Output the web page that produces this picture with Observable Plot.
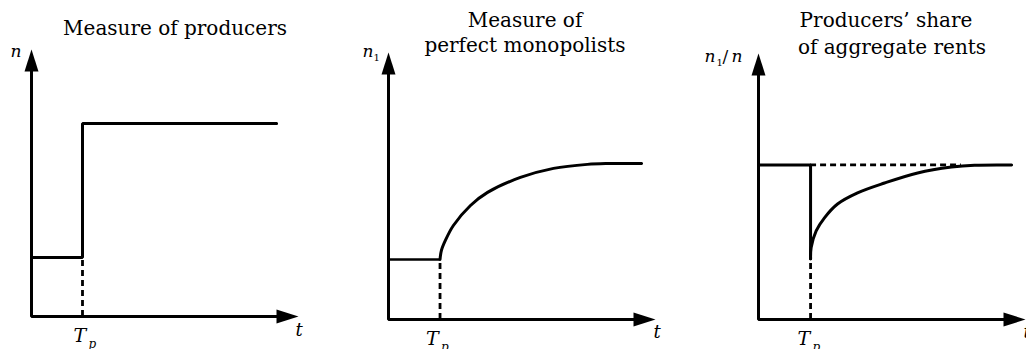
<!DOCTYPE html>
<html>
<head>
<meta charset="utf-8">
<script src="https://cdn.jsdelivr.net/npm/d3@7"></script>
<script src="https://cdn.jsdelivr.net/npm/@observablehq/plot@0.6"></script>
<style>
  body { margin: 0; background: #fff; }
  #row { position: relative; width: 1026px; height: 349px; overflow: hidden; }
  #row svg { position: absolute; top: 0; overflow: visible; }
</style>
</head>
<body>
<div id="row"></div>
<script>
// Axis extent shared by all three diagrams (arbitrary units, arrow tip at the end)
const axisMax = 10;
const axisLineEnd = 9.4;

// Panel 1: measure of producers n (a one-off jump at T_p)
const p1Tp = 1.91;
const p1Before = 2.21;
const p1After = 7.23;
const p1End = 9.18;

// Panel 2: measure of perfect monopolists n1 (gradual rise after T_p)
const p2Tp = 1.93;
const p2Before = 2.25;
const p2T  = [1.93, 1.98, 2.13, 2.43, 3.07, 3.71, 4.94, 6.18, 7.45, 8.20, 9.48];
const p2N1 = [2.25, 2.58, 2.96, 3.52, 4.27, 4.76, 5.32, 5.66, 5.81, 5.84, 5.84];

// Panel 3: producers' share n1/n (drops at T_p, then recovers)
const p3Tp = 1.95;
const p3Level = 5.81;
const p3DashEnd = 7.6;
const p3T     = [1.95, 1.97, 2.16, 2.47, 2.96, 3.71, 4.72, 5.96, 7.23, 8.09, 9.48];
const p3Share = [2.28, 2.70, 3.33, 3.82, 4.34, 4.76, 5.13, 5.51, 5.73, 5.80, 5.81];

// Text
const titles = [
  ["Measure of producers"],
  ["Measure of", "perfect monopolists"],
  ["Producers\u2019 share", "of aggregate rents"]
];
const timeLabel = "t";
const tpLabel = ["T", "p"];

const ink = "#000";
const serif = "DejaVu Serif";
const lineW = 3;

// Filled arrowhead with its tip at the anchor point, pointing up
const arrowHead = {
  draw(ctx) {
    ctx.moveTo(0, 0);
    ctx.lineTo(-7, 22);
    ctx.lineTo(7, 22);
    ctx.closePath();
  }
};

function axes() {
  const frame = [
    {t: 0, v: axisLineEnd},
    {t: 0, v: 0},
    {t: axisLineEnd, v: 0}
  ];
  return [
    Plot.line(frame, {x: "t", y: "v", stroke: ink, strokeWidth: 3, strokeLinejoin: "miter"}),
    Plot.dot([{t: 0, v: axisMax}], {x: "t", y: "v", symbol: arrowHead, fill: ink, stroke: "none"}),
    Plot.dot([{t: axisMax, v: 0}], {x: "t", y: "v", symbol: arrowHead, fill: ink, stroke: "none", rotate: 90})
  ];
}

function titleMarks(lines, dx, dys) {
  return lines.map((line, i) => Plot.text([line], {
    frameAnchor: "top", textAnchor: "middle", lineAnchor: "bottom",
    dx: dx[i], dy: dys[i], fontFamily: serif, fontSize: 20, fill: ink
  }));
}

function label(text, opts) {
  return Plot.text([text], {
    textAnchor: "start", lineAnchor: "bottom", fontFamily: serif,
    fontStyle: "italic", fill: ink, ...opts
  });
}

function tpMarks(tp, dx) {
  return [
    label(tpLabel[0], {x: [tp], y: [0], dx: dx, dy: 25, fontSize: 19}),
    label(tpLabel[1], {x: [tp], y: [0], dx: dx + 15, dy: 31, fontSize: 12})
  ];
}

function tMark(dx, dy) {
  return label(timeLabel, {x: [axisMax], y: [0], dx, dy, fontSize: 18});
}

function panel({width, marginLeft, marginTop, marginBottom, marks}) {
  return Plot.plot({
    width, height: 349,
    marginLeft, marginTop, marginBottom,
    marginRight: width - marginLeft - 267,
    x: {domain: [0, axisMax], axis: null},
    y: {domain: [0, axisMax], axis: null},
    style: {background: "transparent", overflow: "visible"},
    marks
  });
}

const dash = "6,4";

// ---- Panel 1
const p1Step = [
  {t: 0, n: p1Before},
  {t: p1Tp, n: p1Before},
  {t: p1Tp, n: p1After},
  {t: p1End, n: p1After}
];
const svg1 = panel({
  width: 342, marginLeft: 31, marginTop: 49, marginBottom: 33,
  marks: [
    ...axes(),
    Plot.ruleX([p1Tp], {y1: 0, y2: p1Before, stroke: ink, strokeWidth: 2.8, strokeDasharray: dash}),
    Plot.line(p1Step, {x: "t", y: "n", stroke: ink, strokeWidth: lineW, strokeLinejoin: "miter"}),
    ...titleMarks(titles[0], [10], [-15]),
    label("n", {frameAnchor: "top-left", dx: -21, dy: 7, fontSize: 17}),
    ...tpMarks(p1Tp, -9),
    tMark(-3, 19)
  ]
});

// ---- Panel 2
const p2Curve = p2T.map((t, i) => ({t, n: p2N1[i]}));
const svg2 = panel({
  width: 342, marginLeft: 46, marginTop: 52, marginBottom: 30,
  marks: [
    ...axes(),
    Plot.ruleX([p2Tp], {y1: 0, y2: p2Before, stroke: ink, strokeWidth: 2.8, strokeDasharray: dash}),
    Plot.ruleY([p2Before], {x1: 0, x2: p2Tp, stroke: ink, strokeWidth: 2.4}),
    Plot.line(p2Curve, {x: "t", y: "n", curve: "catmull-rom", stroke: ink, strokeWidth: lineW}),
    ...titleMarks(titles[1], [3, 3], [-26, -1]),
    label("n", {frameAnchor: "top-left", dx: -26, dy: 4, fontSize: 17}),
    label("1", {frameAnchor: "top-left", dx: -15, dy: 8, fontSize: 10, fontStyle: "normal"}),
    ...tpMarks(p2Tp, -14),
    tMark(-2, 18)
  ]
});

// ---- Panel 3
const p3Curve = p3T.map((t, i) => ({t, s: p3Share[i]}));
const svg3 = panel({
  width: 342, marginLeft: 74, marginTop: 53, marginBottom: 30,
  marks: [
    ...axes(),
    Plot.ruleX([p3Tp], {y1: 0, y2: p3Share[0], stroke: ink, strokeWidth: 2.8, strokeDasharray: dash}),
    Plot.ruleY([p3Level], {x1: p3Tp, x2: p3DashEnd, stroke: ink, strokeWidth: 2.8, strokeDasharray: dash}),
    Plot.line([{t: 0, s: p3Level}, {t: p3Tp, s: p3Level}, {t: p3Tp, s: p3Share[0]}],
      {x: "t", y: "s", stroke: ink, strokeWidth: lineW, strokeLinejoin: "miter"}),
    Plot.line(p3Curve, {x: "t", y: "s", curve: "catmull-rom", stroke: ink, strokeWidth: lineW}),
    ...titleMarks(titles[2], [-6, 0], [-27, 0]),
    label("n", {frameAnchor: "top-left", dx: -54, dy: 8, fontSize: 17}),
    label("1", {frameAnchor: "top-left", dx: -42, dy: 12, fontSize: 10, fontStyle: "normal"}),
    label("/", {frameAnchor: "top-left", dx: -36, dy: 8, fontSize: 17, fontStyle: "normal"}),
    label("n", {frameAnchor: "top-left", dx: -27, dy: 8, fontSize: 17}),
    ...tpMarks(p3Tp, -13),
    tMark(-2, 18)
  ]
});

const row = document.getElementById("row");
[svg1, svg2, svg3].forEach((svg, i) => {
  svg.style.left = (i * 342) + "px";
  row.appendChild(svg);
});
</script>
</body>
</html>
